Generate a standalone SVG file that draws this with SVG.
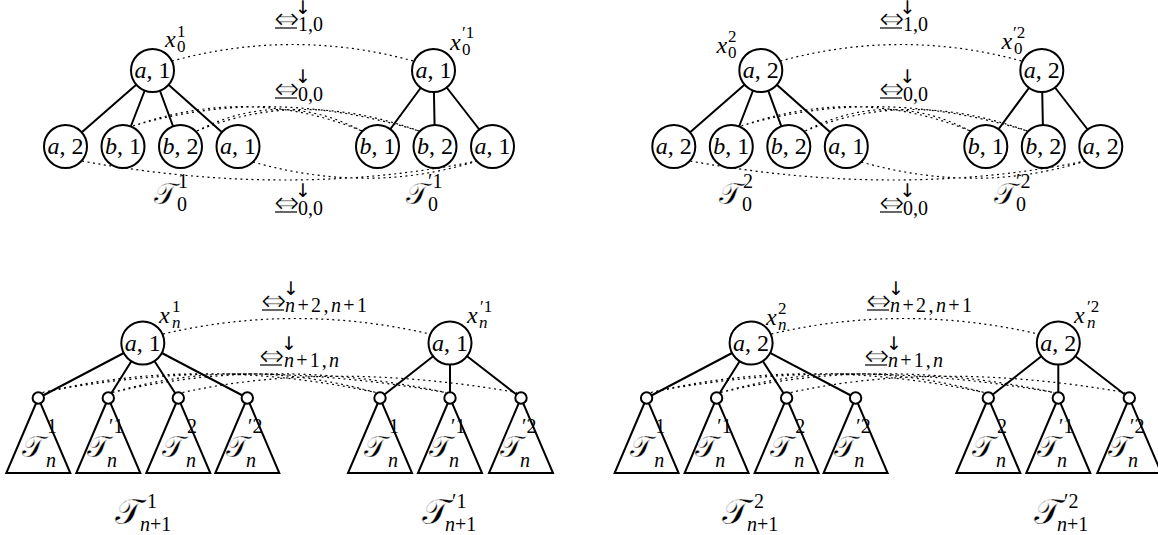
<svg xmlns="http://www.w3.org/2000/svg" width="1158" height="535" viewBox="0 0 1158 535">
<style>
.n circle{fill:#fff;stroke:#000;stroke-width:2}
.edge{stroke:#000;stroke-width:2;fill:none}
.rel{fill:none;stroke:#000;stroke-width:1.2;stroke-dasharray:2 3.5}
.ul{stroke:#000;stroke-width:1.2}
text{font-family:"Liberation Serif",serif;fill:#000}
.lb{font-size:24px}
.i{font-style:italic}
.s{font-size:17px}
.ss{font-size:20px}
.sym{font-family:"DejaVu Sans",sans-serif}
.eq{font-size:31px;stroke:#fff;stroke-width:0.9}
.ar{font-size:19px}
.cal{font-size:30px;font-family:"DejaVu Sans","Liberation Serif",serif;stroke:#fff;stroke-width:0.45}
.big{font-size:36px}
.tri{fill:#fff;stroke:#000;stroke-width:2}
</style>
<g id="connectors">
  <g id="edges-top">
    <path class="edge" d="M152.5,70.5L65.5,146.5M152.5,70.5L123,146.5M152.5,70.5L180.5,146.5M152.5,70.5L238,146.5"/>
    <path class="edge" d="M433.5,70.5L377.5,146.5M433.5,70.5L435,146.5M433.5,70.5L492.5,146.5"/>
    <path class="edge" d="M760.8,70.5L673.8,146.5M760.8,70.5L731.3,146.5M760.8,70.5L788.8,146.5M760.8,70.5L846.3,146.5"/>
    <path class="edge" d="M1041.8,70.5L985.8,146.5M1041.8,70.5L1043.3,146.5M1041.8,70.5L1100.8,146.5"/>
  </g>
  <g id="edges-bottom">
    <path class="edge" d="M142.8,343L38.3,398M142.8,343L108.3,398M142.8,343L178.3,398M142.8,343L247.3,398"/>
    <path class="edge" d="M450,343L380,398M450,343L450,398M450,343L521,398"/>
    <path class="edge" d="M751.1,343L646.6,398M751.1,343L716.6,398M751.1,343L786.6,398M751.1,343L855.6,398"/>
    <path class="edge" d="M1058.3,343L988.3,398M1058.3,343L1058.3,398M1058.3,343L1129.3,398"/>
  </g>
  <g id="rel-top-1">
    <path class="rel" d="M172,61Q293,28 413.5,61"/>
    <path class="rel" d="M133,126Q250,85 362,131M133,126Q270,85 419,131M197,131Q280,88 362,131M197,131Q300,88 419,131"/>
    <path class="rel" d="M82,161Q290,199 477,161M253,162Q370,195 477,161"/>
  </g>
  <g id="rel-top-2" transform="translate(608.3,0)">
    <path class="rel" d="M172,61Q293,28 413.5,61"/>
    <path class="rel" d="M133,126Q250,85 362,131M133,126Q270,85 419,131M197,131Q280,88 362,131M197,131Q300,88 419,131"/>
    <path class="rel" d="M82,161Q290,199 477,161M253,162Q370,195 477,161"/>
  </g>
  <g id="rel-bottom-1">
    <path class="rel" d="M163,334Q295,303 430,334"/>
    <path class="rel" d="M42.5,392.5Q200,355 375.8,392.5M42.5,392.5Q230,355 445.8,392.5M112.5,392.5Q240,355 375.8,392.5M112.5,392.5Q270,355 445.8,392.5M182.5,392.5Q330,360 516.8,392.5"/>
  </g>
  <g id="rel-bottom-2" transform="translate(608.3,0)">
    <path class="rel" d="M163,334Q295,303 430,334"/>
    <path class="rel" d="M42.5,392.5Q200,355 375.8,392.5M42.5,392.5Q230,355 445.8,392.5M112.5,392.5Q240,355 375.8,392.5M112.5,392.5Q270,355 445.8,392.5M182.5,392.5Q330,360 516.8,392.5"/>
  </g>
</g>

<g id="rel-labels">
  <g id="rl1">
    <text class="sym eq" x="274" y="28.5">⇔</text><line class="ul" x1="275" y1="28" x2="297" y2="28"/>
    <text class="sym ar" x="295" y="14">↓</text><text class="ss" x="298" y="30.5">1,0</text>
  </g>
  <g id="rl2">
    <text class="sym eq" x="274" y="98.5">⇔</text><line class="ul" x1="275" y1="98" x2="297" y2="98"/>
    <text class="sym ar" x="295" y="83">↓</text><text class="ss" x="298" y="100.5">0,0</text>
  </g>
  <g id="rl3">
    <text class="sym eq" x="274" y="212.5">⇔</text><line class="ul" x1="275" y1="212" x2="297" y2="212"/>
    <text class="sym ar" x="295" y="197">↓</text><text class="ss" x="298" y="214.5">0,0</text>
  </g>
  <g id="rl4">
    <text class="sym eq" x="879" y="28.5">⇔</text><line class="ul" x1="880" y1="28" x2="902" y2="28"/>
    <text class="sym ar" x="899.5" y="14">↓</text><text class="ss" x="903" y="30.5">1,0</text>
  </g>
  <g id="rl5">
    <text class="sym eq" x="879" y="98.5">⇔</text><line class="ul" x1="880" y1="98" x2="902" y2="98"/>
    <text class="sym ar" x="899.5" y="83">↓</text><text class="ss" x="903" y="100.5">0,0</text>
  </g>
  <g id="rl6">
    <text class="sym eq" x="879" y="212.5">⇔</text><line class="ul" x1="880" y1="212" x2="902" y2="212"/>
    <text class="sym ar" x="899.5" y="197">↓</text><text class="ss" x="903" y="214.5">0,0</text>
  </g>
  <g id="rl7">
    <text class="sym eq" x="261" y="310.5">⇔</text><line class="ul" x1="262" y1="310" x2="284" y2="310"/>
    <text class="sym ar" x="283" y="295">↓</text>
    <text class="ss" x="285" y="312" textLength="82" lengthAdjust="spacing"><tspan class="i">n</tspan>+2,<tspan class="i">n</tspan>+1</text>
  </g>
  <g id="rl8">
    <text class="sym eq" x="259" y="365.5">⇔</text><line class="ul" x1="260" y1="365" x2="282" y2="365"/>
    <text class="sym ar" x="281" y="350">↓</text>
    <text class="ss" x="284" y="367" textLength="55" lengthAdjust="spacing"><tspan class="i">n</tspan>+1,<tspan class="i">n</tspan></text>
  </g>
  <g id="rl9">
    <text class="sym eq" x="866" y="310.5">⇔</text><line class="ul" x1="867" y1="310" x2="889" y2="310"/>
    <text class="sym ar" x="888" y="295">↓</text>
    <text class="ss" x="890" y="312" textLength="82" lengthAdjust="spacing"><tspan class="i">n</tspan>+2,<tspan class="i">n</tspan>+1</text>
  </g>
  <g id="rl10">
    <text class="sym eq" x="864" y="365.5">⇔</text><line class="ul" x1="865" y1="365" x2="887" y2="365"/>
    <text class="sym ar" x="886" y="350">↓</text>
    <text class="ss" x="888" y="367" textLength="55" lengthAdjust="spacing"><tspan class="i">n</tspan>+1,<tspan class="i">n</tspan></text>
  </g>
</g>

<!-- top pair 1 -->
<g id="t01-root" class="n"><circle cx="152.5" cy="70.5" r="21.5"/><text class="lb" x="152.5" y="78" text-anchor="middle"><tspan class="i">a</tspan>, 1</text>
  <text class="lb i" x="165" y="46.5">x</text><text class="s" x="177" y="36.5">1</text><text class="s" x="177" y="52">0</text></g>
<g id="t01-c1" class="n"><circle cx="65.5" cy="146.5" r="21.5"/><text class="lb" x="65.5" y="154" text-anchor="middle"><tspan class="i">a</tspan>, 2</text></g>
<g id="t01-c2" class="n"><circle cx="123" cy="146.5" r="21.5"/><text class="lb" x="123" y="154" text-anchor="middle"><tspan class="i">b</tspan>, 1</text></g>
<g id="t01-c3" class="n"><circle cx="180.5" cy="146.5" r="21.5"/><text class="lb" x="180.5" y="154" text-anchor="middle"><tspan class="i">b</tspan>, 2</text></g>
<g id="t01-c4" class="n"><circle cx="238" cy="146.5" r="21.5"/><text class="lb" x="238" y="154" text-anchor="middle"><tspan class="i">a</tspan>, 1</text></g>
<g id="t01-name"><text class="cal" x="154" y="204">𝒯</text><text class="ss" x="178" y="188">1</text><text class="ss" x="177" y="211">0</text></g>

<g id="t01p-root" class="n"><circle cx="433.5" cy="70.5" r="21.5"/><text class="lb" x="433.5" y="78" text-anchor="middle"><tspan class="i">a</tspan>, 1</text>
  <text class="lb i" x="450" y="50">x</text><text class="s" x="462" y="38">′1</text><text class="s" x="462" y="55">0</text></g>
<g id="t01p-c1" class="n"><circle cx="377.5" cy="146.5" r="21.5"/><text class="lb" x="377.5" y="154" text-anchor="middle"><tspan class="i">b</tspan>, 1</text></g>
<g id="t01p-c2" class="n"><circle cx="435" cy="146.5" r="21.5"/><text class="lb" x="435" y="154" text-anchor="middle"><tspan class="i">b</tspan>, 2</text></g>
<g id="t01p-c3" class="n"><circle cx="492.5" cy="146.5" r="21.5"/><text class="lb" x="492.5" y="154" text-anchor="middle"><tspan class="i">a</tspan>, 1</text></g>
<g id="t01p-name"><text class="cal" x="406" y="204">𝒯</text><text class="ss" x="428" y="188">′1</text><text class="ss" x="428" y="211">0</text></g>

<!-- top pair 2 -->
<g id="t02-root" class="n"><circle cx="760.8" cy="70.5" r="21.5"/><text class="lb" x="760.8" y="78" text-anchor="middle"><tspan class="i">a</tspan>, 2</text>
  <text class="lb i" x="716.5" y="53">x</text><text class="s" x="728" y="41.5">2</text><text class="s" x="728" y="58">0</text></g>
<g id="t02-c1" class="n"><circle cx="673.8" cy="146.5" r="21.5"/><text class="lb" x="673.8" y="154" text-anchor="middle"><tspan class="i">a</tspan>, 2</text></g>
<g id="t02-c2" class="n"><circle cx="731.3" cy="146.5" r="21.5"/><text class="lb" x="731.3" y="154" text-anchor="middle"><tspan class="i">b</tspan>, 1</text></g>
<g id="t02-c3" class="n"><circle cx="788.8" cy="146.5" r="21.5"/><text class="lb" x="788.8" y="154" text-anchor="middle"><tspan class="i">b</tspan>, 2</text></g>
<g id="t02-c4" class="n"><circle cx="846.3" cy="146.5" r="21.5"/><text class="lb" x="846.3" y="154" text-anchor="middle"><tspan class="i">a</tspan>, 1</text></g>
<g id="t02-name"><text class="cal" x="719" y="204">𝒯</text><text class="ss" x="743" y="188">2</text><text class="ss" x="742" y="211">0</text></g>

<g id="t02p-root" class="n"><circle cx="1041.8" cy="70.5" r="21.5"/><text class="lb" x="1041.8" y="78" text-anchor="middle"><tspan class="i">a</tspan>, 2</text>
  <text class="lb i" x="1001.5" y="49">x</text><text class="s" x="1013" y="38">′2</text><text class="s" x="1014" y="54">0</text></g>
<g id="t02p-c1" class="n"><circle cx="985.8" cy="146.5" r="21.5"/><text class="lb" x="985.8" y="154" text-anchor="middle"><tspan class="i">b</tspan>, 1</text></g>
<g id="t02p-c2" class="n"><circle cx="1043.3" cy="146.5" r="21.5"/><text class="lb" x="1043.3" y="154" text-anchor="middle"><tspan class="i">b</tspan>, 2</text></g>
<g id="t02p-c3" class="n"><circle cx="1100.8" cy="146.5" r="21.5"/><text class="lb" x="1100.8" y="154" text-anchor="middle"><tspan class="i">a</tspan>, 2</text></g>
<g id="t02p-name"><text class="cal" x="994" y="204">𝒯</text><text class="ss" x="1016" y="188">′2</text><text class="ss" x="1016" y="211">0</text></g>

<!-- bottom pair 1 -->
<g id="tn1-root" class="n"><circle cx="142.8" cy="343" r="21.5"/><text class="lb" x="142.8" y="350.5" text-anchor="middle"><tspan class="i">a</tspan>, 1</text>
  <text class="lb i" x="159" y="323">x</text><text class="s" x="172" y="312">1</text><text class="s i" x="172" y="328">n</text></g>
<g id="tn1-s1" class="n"><polygon class="tri" points="38.3,398 6.3,473 70.3,473"/><circle cx="38.3" cy="398" r="5.7"/>
  <text class="cal" x="22" y="457">𝒯</text><text class="ss" x="47" y="433">1</text><text class="ss i" x="46" y="467">n</text></g>
<g id="tn1-s2" class="n"><polygon class="tri" points="108.3,398 76.3,473 140.3,473"/><circle cx="108.3" cy="398" r="5.7"/>
  <text class="cal" x="87" y="457">𝒯</text><text class="ss" x="109" y="433">′1</text><text class="ss i" x="107" y="467">n</text></g>
<g id="tn1-s3" class="n"><polygon class="tri" points="178.3,398 146.3,473 210.3,473"/><circle cx="178.3" cy="398" r="5.7"/>
  <text class="cal" x="162" y="457">𝒯</text><text class="ss" x="187" y="433">2</text><text class="ss i" x="186" y="467">n</text></g>
<g id="tn1-s4" class="n"><polygon class="tri" points="247.3,398 215.3,473 279.3,473"/><circle cx="247.3" cy="398" r="5.7"/>
  <text class="cal" x="226" y="457">𝒯</text><text class="ss" x="248" y="433">′2</text><text class="ss i" x="246" y="467">n</text></g>
<g id="tn1-name"><text class="cal big" x="115" y="524">𝒯</text><text class="ss" x="147" y="508">1</text><text class="ss" x="140" y="531"><tspan class="i">n</tspan>+1</text></g>

<g id="tn1p-root" class="n"><circle cx="450" cy="343" r="21.5"/><text class="lb" x="450" y="350.5" text-anchor="middle"><tspan class="i">a</tspan>, 1</text>
  <text class="lb i" x="467" y="323">x</text><text class="s" x="480" y="312">′1</text><text class="s i" x="479" y="328">n</text></g>
<g id="tn1p-s1" class="n"><polygon class="tri" points="380,398 348,473 412,473"/><circle cx="380" cy="398" r="5.7"/>
  <text class="cal" x="364" y="457">𝒯</text><text class="ss" x="389" y="433">1</text><text class="ss i" x="388" y="467">n</text></g>
<g id="tn1p-s2" class="n"><polygon class="tri" points="450,398 418,473 482,473"/><circle cx="450" cy="398" r="5.7"/>
  <text class="cal" x="429" y="457">𝒯</text><text class="ss" x="451" y="433">′1</text><text class="ss i" x="449" y="467">n</text></g>
<g id="tn1p-s3" class="n"><polygon class="tri" points="521,398 489,473 553,473"/><circle cx="521" cy="398" r="5.7"/>
  <text class="cal" x="500" y="457">𝒯</text><text class="ss" x="522" y="433">′2</text><text class="ss i" x="520" y="467">n</text></g>
<g id="tn1p-name"><text class="cal big" x="422" y="524">𝒯</text><text class="ss" x="452" y="508">′1</text><text class="ss" x="445" y="531"><tspan class="i">n</tspan>+1</text></g>

<!-- bottom pair 2 -->
<g id="tn2-root" class="n"><circle cx="751.1" cy="343" r="21.5"/><text class="lb" x="751.1" y="350.5" text-anchor="middle"><tspan class="i">a</tspan>, 2</text>
  <text class="lb i" x="766" y="325">x</text><text class="s" x="778" y="314">2</text><text class="s i" x="778" y="330">n</text></g>
<g id="tn2-s1" class="n"><polygon class="tri" points="646.6,398 614.6,473 678.6,473"/><circle cx="646.6" cy="398" r="5.7"/>
  <text class="cal" x="630.3" y="457">𝒯</text><text class="ss" x="655.3" y="433">1</text><text class="ss i" x="654.3" y="467">n</text></g>
<g id="tn2-s2" class="n"><polygon class="tri" points="716.6,398 684.6,473 748.6,473"/><circle cx="716.6" cy="398" r="5.7"/>
  <text class="cal" x="695.3" y="457">𝒯</text><text class="ss" x="717.3" y="433">′1</text><text class="ss i" x="715.3" y="467">n</text></g>
<g id="tn2-s3" class="n"><polygon class="tri" points="786.6,398 754.6,473 818.6,473"/><circle cx="786.6" cy="398" r="5.7"/>
  <text class="cal" x="770.3" y="457">𝒯</text><text class="ss" x="795.3" y="433">2</text><text class="ss i" x="794.3" y="467">n</text></g>
<g id="tn2-s4" class="n"><polygon class="tri" points="855.6,398 823.6,473 887.6,473"/><circle cx="855.6" cy="398" r="5.7"/>
  <text class="cal" x="834.3" y="457">𝒯</text><text class="ss" x="856.3" y="433">′2</text><text class="ss i" x="854.3" y="467">n</text></g>
<g id="tn2-name"><text class="cal big" x="722" y="524">𝒯</text><text class="ss" x="754" y="508">2</text><text class="ss" x="747" y="531"><tspan class="i">n</tspan>+1</text></g>

<g id="tn2p-root" class="n"><circle cx="1058.3" cy="343" r="21.5"/><text class="lb" x="1058.3" y="350.5" text-anchor="middle"><tspan class="i">a</tspan>, 2</text>
  <text class="lb i" x="1074" y="323">x</text><text class="s" x="1087" y="312">′2</text><text class="s i" x="1087" y="328">n</text></g>
<g id="tn2p-s1" class="n"><polygon class="tri" points="988.3,398 956.3,473 1020.3,473"/><circle cx="988.3" cy="398" r="5.7"/>
  <text class="cal" x="972" y="457">𝒯</text><text class="ss" x="997" y="433">2</text><text class="ss i" x="996" y="467">n</text></g>
<g id="tn2p-s2" class="n"><polygon class="tri" points="1058.3,398 1026.3,473 1090.3,473"/><circle cx="1058.3" cy="398" r="5.7"/>
  <text class="cal" x="1037" y="457">𝒯</text><text class="ss" x="1059" y="433">′1</text><text class="ss i" x="1057" y="467">n</text></g>
<g id="tn2p-s3" class="n"><polygon class="tri" points="1129.3,398 1097.3,473 1161.3,473"/><circle cx="1129.3" cy="398" r="5.7"/>
  <text class="cal" x="1108" y="457">𝒯</text><text class="ss" x="1130" y="433">′2</text><text class="ss i" x="1128" y="467">n</text></g>
<g id="tn2p-name"><text class="cal big" x="1034" y="524">𝒯</text><text class="ss" x="1064" y="508">′2</text><text class="ss" x="1057" y="531"><tspan class="i">n</tspan>+1</text></g>
</svg>
